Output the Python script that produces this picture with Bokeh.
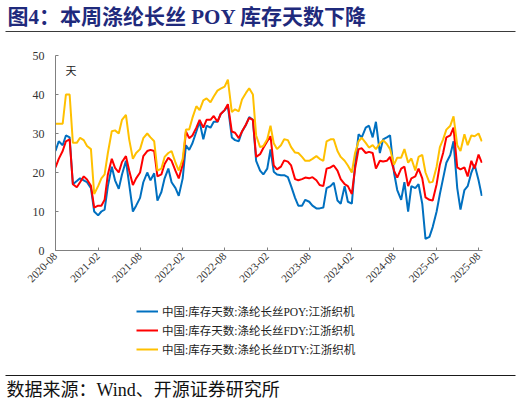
import pandas as pd
from math import pi
from bokeh.plotting import figure
from bokeh.layouts import column
from bokeh.models import (Range1d, FixedTicker, DatetimeTickFormatter, Label,
                          Legend, LegendItem)
from bokeh.embed import file_html
from bokeh.resources import INLINE

# semi-monthly readings, 2020-08-01 .. 2025-08-15
dates = pd.date_range("2020-08-01", periods=122, freq="SMS")

tick_months = ["2020-08", "2021-02", "2021-08", "2022-02", "2022-08", "2023-02",
               "2023-08", "2024-02", "2024-08", "2025-02", "2025-08"]

poy = [25.5, 28, 27, 29.5, 29, 17, 17.8, 18.5, 18, 17.5,
       16, 10, 9, 10, 10.5, 16.5, 21.5, 18, 15.8, 19.5,
       23, 17, 10, 11.5, 13.5, 17.5, 20, 18, 19.8, 12.8,
       15, 18.5, 21, 17.5, 16, 14, 18.5, 27, 25.8, 27.5,
       30.5, 33, 28.5, 32, 31.5, 33, 33, 35, 36, 37,
       29, 28.3, 28, 30.5, 32.2, 34.2, 33.5, 23, 20.5, 19.5,
       21, 25.9, 20.2, 19.5, 19.3, 19.3, 18.8, 16.5, 13.5, 11.5,
       11.5, 13, 12.5, 11.5, 10.8, 10.8, 11, 16, 16.5, 17.4,
       12.8, 12, 16.5, 12.5, 12, 22, 29.8, 29, 31.5, 32,
       29, 33, 25, 28.5, 29, 29.5, 20, 15.5, 13, 17.5,
       10, 16.5, 16, 17, 12, 3, 3.5, 6, 10, 14.5,
       18.5, 22.5, 24.5, 28, 16, 10.5, 15.5, 16.5, 20, 22,
       18, 14]

fdy = [21.3, 23.5, 25.5, 28, 28.5, 17, 16.2, 17.5, 19, 18.2,
       16.6, 11, 11.5, 11.5, 13, 19.5, 23.5, 21.2, 20, 22.7,
       24.2, 20.5, 16.8, 18.5, 20, 24.2, 25.5, 25.8, 25.5, 19,
       19.5, 22.2, 23.8, 23, 20.4, 18.5, 22, 30.5, 28.8, 29.5,
       31.5, 33.5, 31.5, 33.5, 33.5, 34.5, 33, 35, 36, 37.5,
       30.5, 30.2, 28.8, 30.5, 32.3, 34, 33.5, 24, 24.7, 26.3,
       28, 29.3, 21.8, 20.8, 21.5, 23.1, 22.8, 21.8, 18.3, 18,
       18.3, 18.7, 18.5, 18.8, 18, 16.8, 16.5, 21, 21.3, 21.8,
       20.5, 18.3, 17, 16.5, 14.5, 21, 26, 26.2, 25, 25.3,
       25, 21, 23, 22.8, 23, 24, 20.5, 18.7, 21, 21.5,
       16.5, 18.5, 19, 21, 18.5, 13.6, 13, 12.8, 17, 22,
       25, 29, 29.5, 31.5, 21.3, 20.8, 21.3, 19, 23, 21,
       24.6, 22.5]

dty = [32.5, 32.5, 32.5, 40, 40, 27.6, 27.6, 28.9, 28.3, 26.8,
       26, 14.5, 16.5, 18.5, 19.5, 25, 30.6, 30.8, 30, 33.5,
       34.8, 28.5, 23.5, 25, 26, 28.8, 30, 29, 28, 20.5,
       21, 24, 25, 25.5, 22.5, 20.5, 23.5, 31, 31, 34,
       37, 36, 38.5, 39, 38, 39.5, 41, 41.5, 42, 43.8,
       35.5, 36.2, 35.7, 38.7, 40.4, 41.6, 40, 29.5, 26.5, 26.8,
       28.5, 32, 27.5, 26, 27, 28.5, 28.3, 26.5, 25.1, 25,
       24, 23, 23, 23.5, 24.2, 23.5, 23, 28, 28.5, 28.5,
       25.5, 24, 23, 21.8, 20, 25, 28, 28.9, 27.6, 26.4,
       27, 26, 27.5, 28.3, 27.3, 26, 22, 23.8, 23.8, 26,
       22.5, 23.6, 20.5, 24, 24.5, 20, 17.4, 17.6, 21.5, 26.5,
       28.5, 31, 32, 34.4, 27, 25.5, 29.8, 27, 29.5, 29.3,
       30, 28]

names = ["中国:库存天数:涤纶长丝POY:江浙织机",
         "中国:库存天数:涤纶长丝FDY:江浙织机",
         "中国:库存天数:涤纶长丝DTY:江浙织机"]
colors = ["#0070C0", "#FF0000", "#FFC000"]

SERIF = "Liberation Serif, Noto Sans CJK SC"
W = 521


def blank_fig(h):
    f = figure(width=W, height=h, x_range=Range1d(0, W), y_range=Range1d(h, 0),
               output_backend="svg", toolbar_location=None,
               x_axis_location=None, y_axis_location=None, min_border=0)
    f.outline_line_color = None
    f.xgrid.visible = False
    f.ygrid.visible = False
    return f


# ---- header
top = blank_fig(40)
top.add_layout(Label(x=7, y=16, text="图4：本周涤纶长丝 POY 库存天数下降",
                     text_font=SERIF, text_font_style="bold",
                     text_font_size="21px", text_color="#1F2A7C",
                     text_baseline="middle"))
top.segment(x0=[5], y0=[31], x1=[515], y1=[31], line_color="#3a3a3a", line_width=1.2)

# ---- chart
p = figure(width=W, height=260, x_axis_type="datetime",
           x_range=Range1d(pd.Timestamp("2020-08-01"), pd.Timestamp("2025-08-18")),
           y_range=Range1d(0, 50),
           output_backend="svg", toolbar_location=None,
           min_border_left=55, min_border_right=39,
           min_border_top=15, min_border_bottom=50)
p.outline_line_color = None
p.xgrid.visible = False
p.ygrid.visible = False

for vals, c in zip([poy, fdy, dty], colors):
    p.line(dates, vals, line_color=c, line_width=2)

for ax in (p.xaxis[0], p.yaxis[0]):
    ax.axis_line_color = "#808080"
    ax.major_tick_line_color = "#808080"
    ax.major_tick_in = 3
    ax.major_tick_out = 0
    ax.minor_tick_line_color = None
    ax.major_label_text_font = "Liberation Serif"
    ax.major_label_text_color = "#333333"

p.yaxis.ticker = FixedTicker(ticks=[0, 10, 20, 30, 40, 50])
p.yaxis.major_label_standoff = 11
p.yaxis.major_label_text_font_size = "12px"

p.xaxis.ticker = FixedTicker(
    ticks=[pd.Timestamp(m + "-01").timestamp() * 1000 for m in tick_months])
p.xaxis.formatter = DatetimeTickFormatter(
    days="%Y-%m", months="%Y-%m", years="%Y-%m")
p.xaxis.major_label_orientation = pi / 4
p.xaxis.major_label_standoff = 4
p.xaxis.major_label_text_font_size = "11px"

p.add_layout(Label(x=10, y=181, x_units="screen", y_units="screen", text="天",
                   text_font="Noto Sans CJK SC", text_font_size="11px",
                   text_baseline="middle", text_color="#222222"))

# ---- legend + source
bot = blank_fig(105)
proxies = [bot.line(x=[-20, -10], y=[-20, -20], line_color=c, line_width=2) for c in colors]
legend = Legend(items=[LegendItem(label=n, renderers=[r]) for n, r in zip(names, proxies)],
                location=(136, 48), orientation="vertical",
                glyph_width=22, glyph_height=12, label_height=12,
                label_standoff=4, spacing=3, padding=0, margin=0,
                border_line_color=None, background_fill_alpha=0,
                label_text_font=SERIF, label_text_font_size="11.5px",
                label_text_color="#222222")
bot.add_layout(legend)
bot.segment(x0=[5], y0=[75], x1=[515], y1=[75], line_color="#1a1a1a", line_width=1.2)
bot.add_layout(Label(x=6, y=89, text="数据来源：Wind、开源证券研究所",
                     text_font=SERIF, text_font_size="18px", text_color="#111111",
                     text_baseline="middle"))

# keep each figure's frame where it is set, no cross-figure alignment
for f in (top, p, bot):
    if "frame_align" in f.properties():
        f.frame_align = False

layout = column(top, p, bot, spacing=0)
open("out.html", "w").write(file_html(layout, INLINE))
